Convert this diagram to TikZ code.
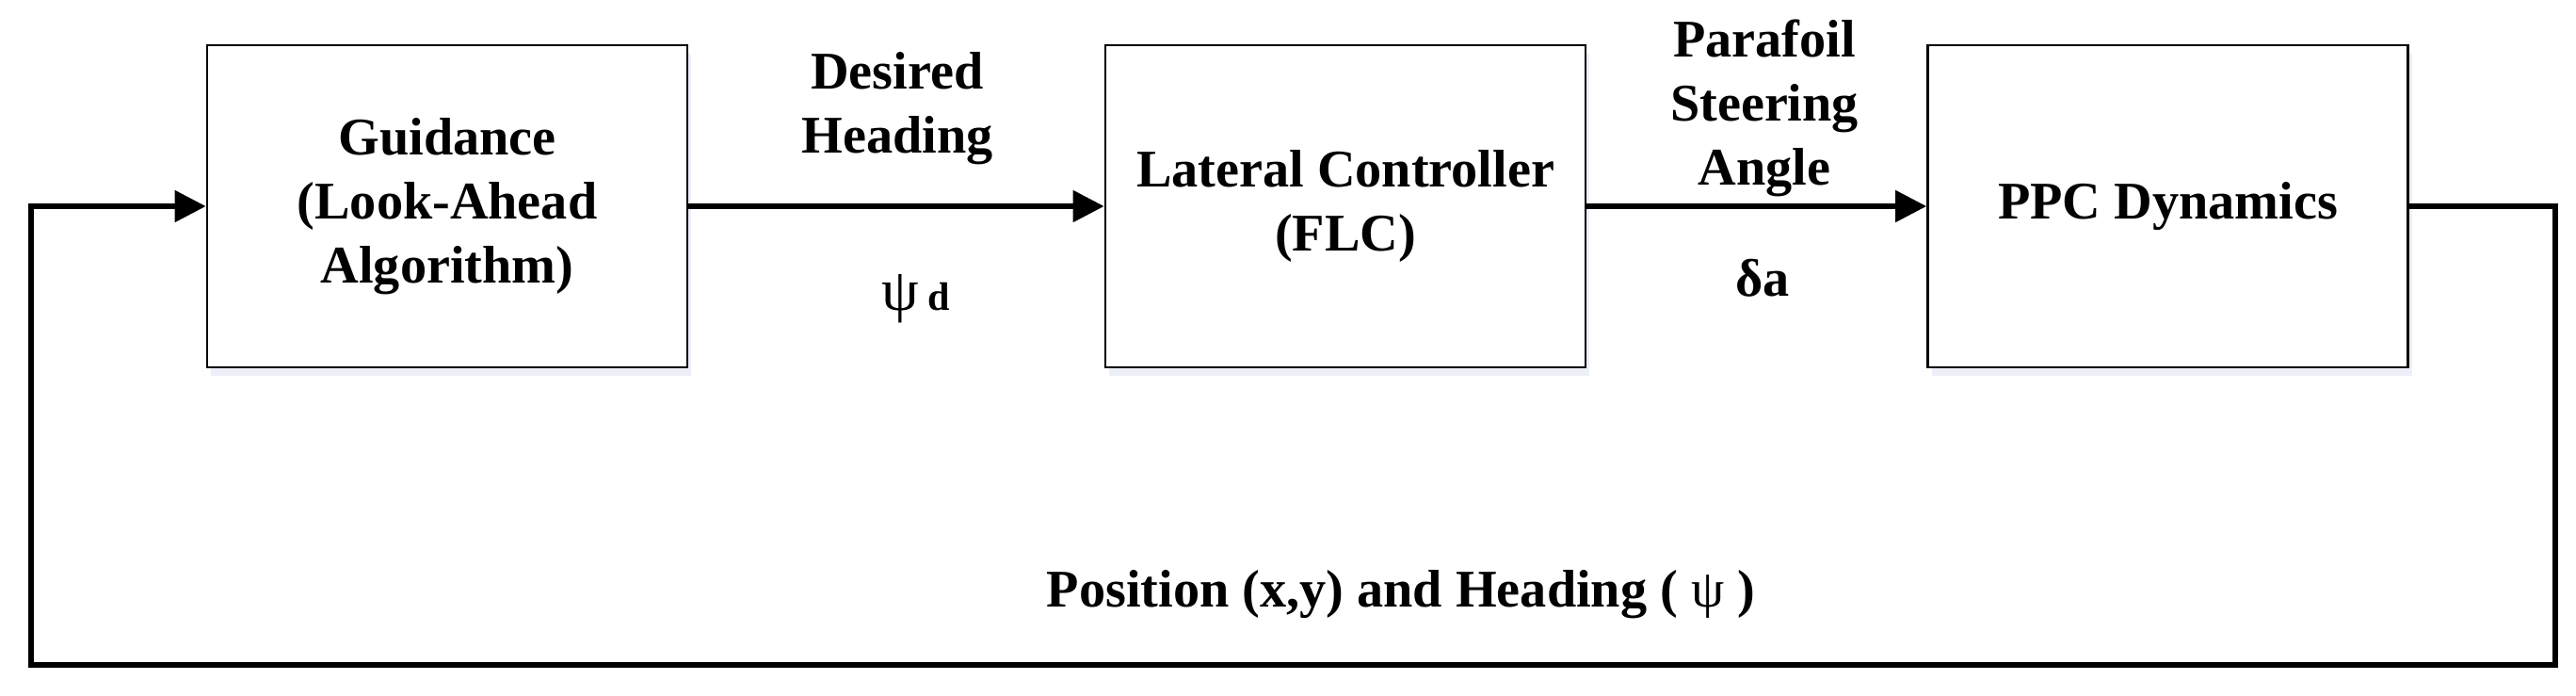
\documentclass[tikz,border=0pt]{standalone}
\usepackage{fontspec}
\setmainfont{Liberation Serif}
\usetikzlibrary{arrows.meta,shadows}
\definecolor{shcol}{RGB}{200,210,235}
\begin{document}
\begin{tikzpicture}[x=1cm,y=1cm,
  blockbox/.style={draw=black,line width=0.8pt,fill=white,minimum width=5.10cm,minimum height=3.42cm,inner sep=0pt,align=center,
    general shadow={shadow xshift=0.4mm,shadow yshift=-0.9mm,fill=shcol,opacity=0.35}},
  lbl/.style={font=\fontsize{16}{19.3}\selectfont\bfseries,align=center,inner sep=0pt},
  conn/.style={line width=1.45pt,line join=miter},
  arr/.style={conn,-{Triangle[length=3.3mm,width=3.3mm]}}]
\useasboundingbox (0,0) rectangle (27.36,7.38);
\node[blockbox,lbl] (guid) at (4.75,5.19) {Guidance\\(Look-Ahead\\Algorithm)};
\node[blockbox,lbl] (lat) at (14.29,5.19) {Lateral Controller\\(FLC)};
\node[blockbox,lbl] (ppc) at (23.025,5.19) {PPC Dynamics};
\node[lbl,anchor=base] (des) at (9.53,5.76) {Desired\\Heading};
\node[lbl,anchor=base] (psid) at (9.73,4.09) {{\mdseries\fontsize{18}{18}\selectfont ψ}\,{\fontsize{12}{12}\selectfont d}};
\node[lbl,anchor=base] (para) at (18.74,5.42) {Parafoil\\Steering\\Angle};
\node[lbl,anchor=base] (da) at (18.72,4.24) {δa};
\node[lbl,anchor=base] (pos) at (14.88,0.94) {Position (x,y) and Heading ( {\mdseries ψ} )};
\coordinate (fr) at (27.14,5.19);
\coordinate (br) at (27.14,0.32);
\coordinate (bl) at (0.33,0.32);
\coordinate (tl) at (0.33,5.19);
\draw[arr] (guid.east) -- (lat.west);
\draw[arr] (lat.east) -- (ppc.west);
\draw[arr] (ppc.east) -- (fr) -- (br) -- (bl) -- (tl) -- (guid.west);
\end{tikzpicture}
\end{document}
